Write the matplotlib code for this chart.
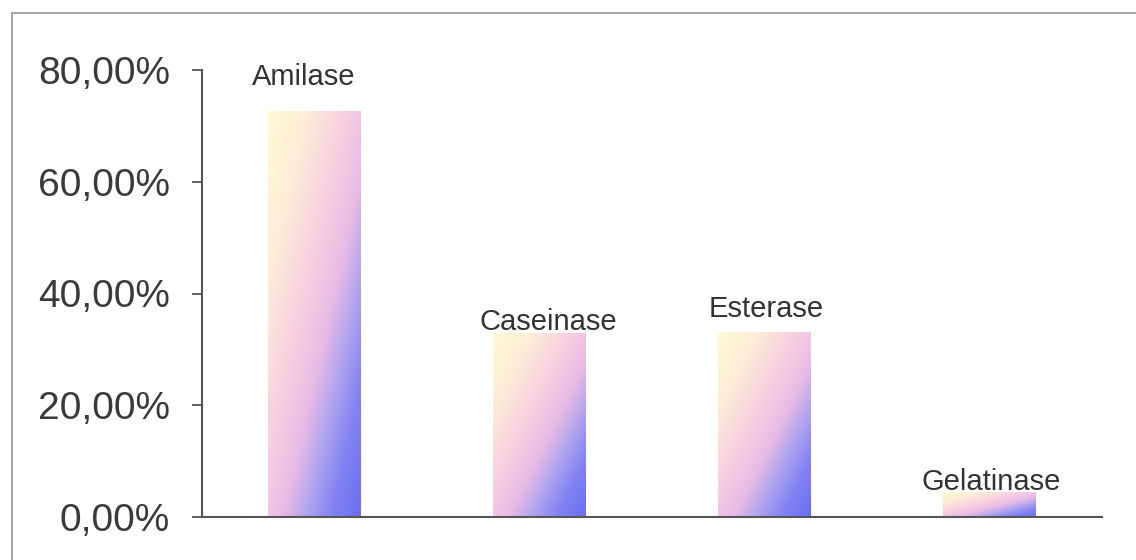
import numpy as np
import matplotlib
matplotlib.use("Agg")
import matplotlib.pyplot as plt
from matplotlib.colors import LinearSegmentedColormap
from matplotlib.patches import Rectangle
from matplotlib.ticker import FixedLocator, FuncFormatter

# Enzyme activity (percentage of positive isolates)
enzymes = ["Amilase", "Caseinase", "Esterase", "Gelatinase"]
activity = [72.5, 32.9, 33.0, 4.3]
y_ticks = [0, 20, 40, 60, 80]

# label offsets (points) relative to the top of each bar
label_dx = [-8, 6, 1, 1]
label_dy = [25, 8, 17, 8]

plt.rcParams["font.family"] = ["Liberation Sans", "DejaVu Sans"]

fig = plt.figure(figsize=(11.36, 5.6), dpi=100)
fig.patch.set_facecolor("white")

# outer chart frame (only top and left edges fall inside the image)
fig.patches.append(Rectangle((12 / 1136, -0.2), 1.5, 1.2 - 13 / 560,
                             transform=fig.transFigure, fill=False,
                             edgecolor="#8c8c8c", linewidth=1.1))

ax = fig.add_axes([202 / 1136, 1 - 517 / 560, 900 / 1136, (517 - 70) / 560])

x = np.arange(len(enzymes)) + 0.5
bars = ax.bar(x, activity, width=0.41, facecolor="none", edgecolor="none")

cmap = LinearSegmentedColormap.from_list(
    "bar_grad",
    [(0.0, "#fffbd2"), (0.22, "#fdebd8"), (0.45, "#f7cbe2"),
     (0.58, "#e8bbe6"), (0.70, "#b4a6ee"), (0.84, "#8284f2"),
     (1.0, "#6a6ef2")])

n = 200
u = np.linspace(0, 1, n)
uu, vv = np.meshgrid(u, u)
grad = (uu + vv) / 2.0  # top-left -> bottom-right
for b in bars:
    x0, y0 = b.get_x(), b.get_y()
    w, h = b.get_width(), b.get_height()
    ax.imshow(grad, cmap=cmap, vmin=0, vmax=1, origin="upper",
              extent=(x0, x0 + w, y0, y0 + h), aspect="auto",
              interpolation="bilinear", zorder=2)

for xi, val, name, dx, dy in zip(x, activity, enzymes, label_dx, label_dy):
    ax.annotate(name, (xi, val), xytext=(dx, dy), textcoords="offset points",
                ha="center", va="center", fontsize=21, color="#333333")

ax.set_xlim(0, len(enzymes))
ax.set_ylim(0, 80)
ax.yaxis.set_major_locator(FixedLocator(y_ticks))
ax.yaxis.set_major_formatter(FuncFormatter(lambda v, p: f"{v:.2f}%".replace(".", ",")))
ax.set_xticks([])

for s in ["top", "right"]:
    ax.spines[s].set_visible(False)
for s in ["left", "bottom"]:
    ax.spines[s].set_color("#555555")
    ax.spines[s].set_linewidth(1.5)

ax.tick_params(axis="y", direction="out", length=7, width=1.3, color="#555555",
               pad=16, labelsize=28, labelcolor="#3a3a3a")
ax.set_facecolor("none")

fig.savefig("out.png", dpi=100, facecolor="white")
